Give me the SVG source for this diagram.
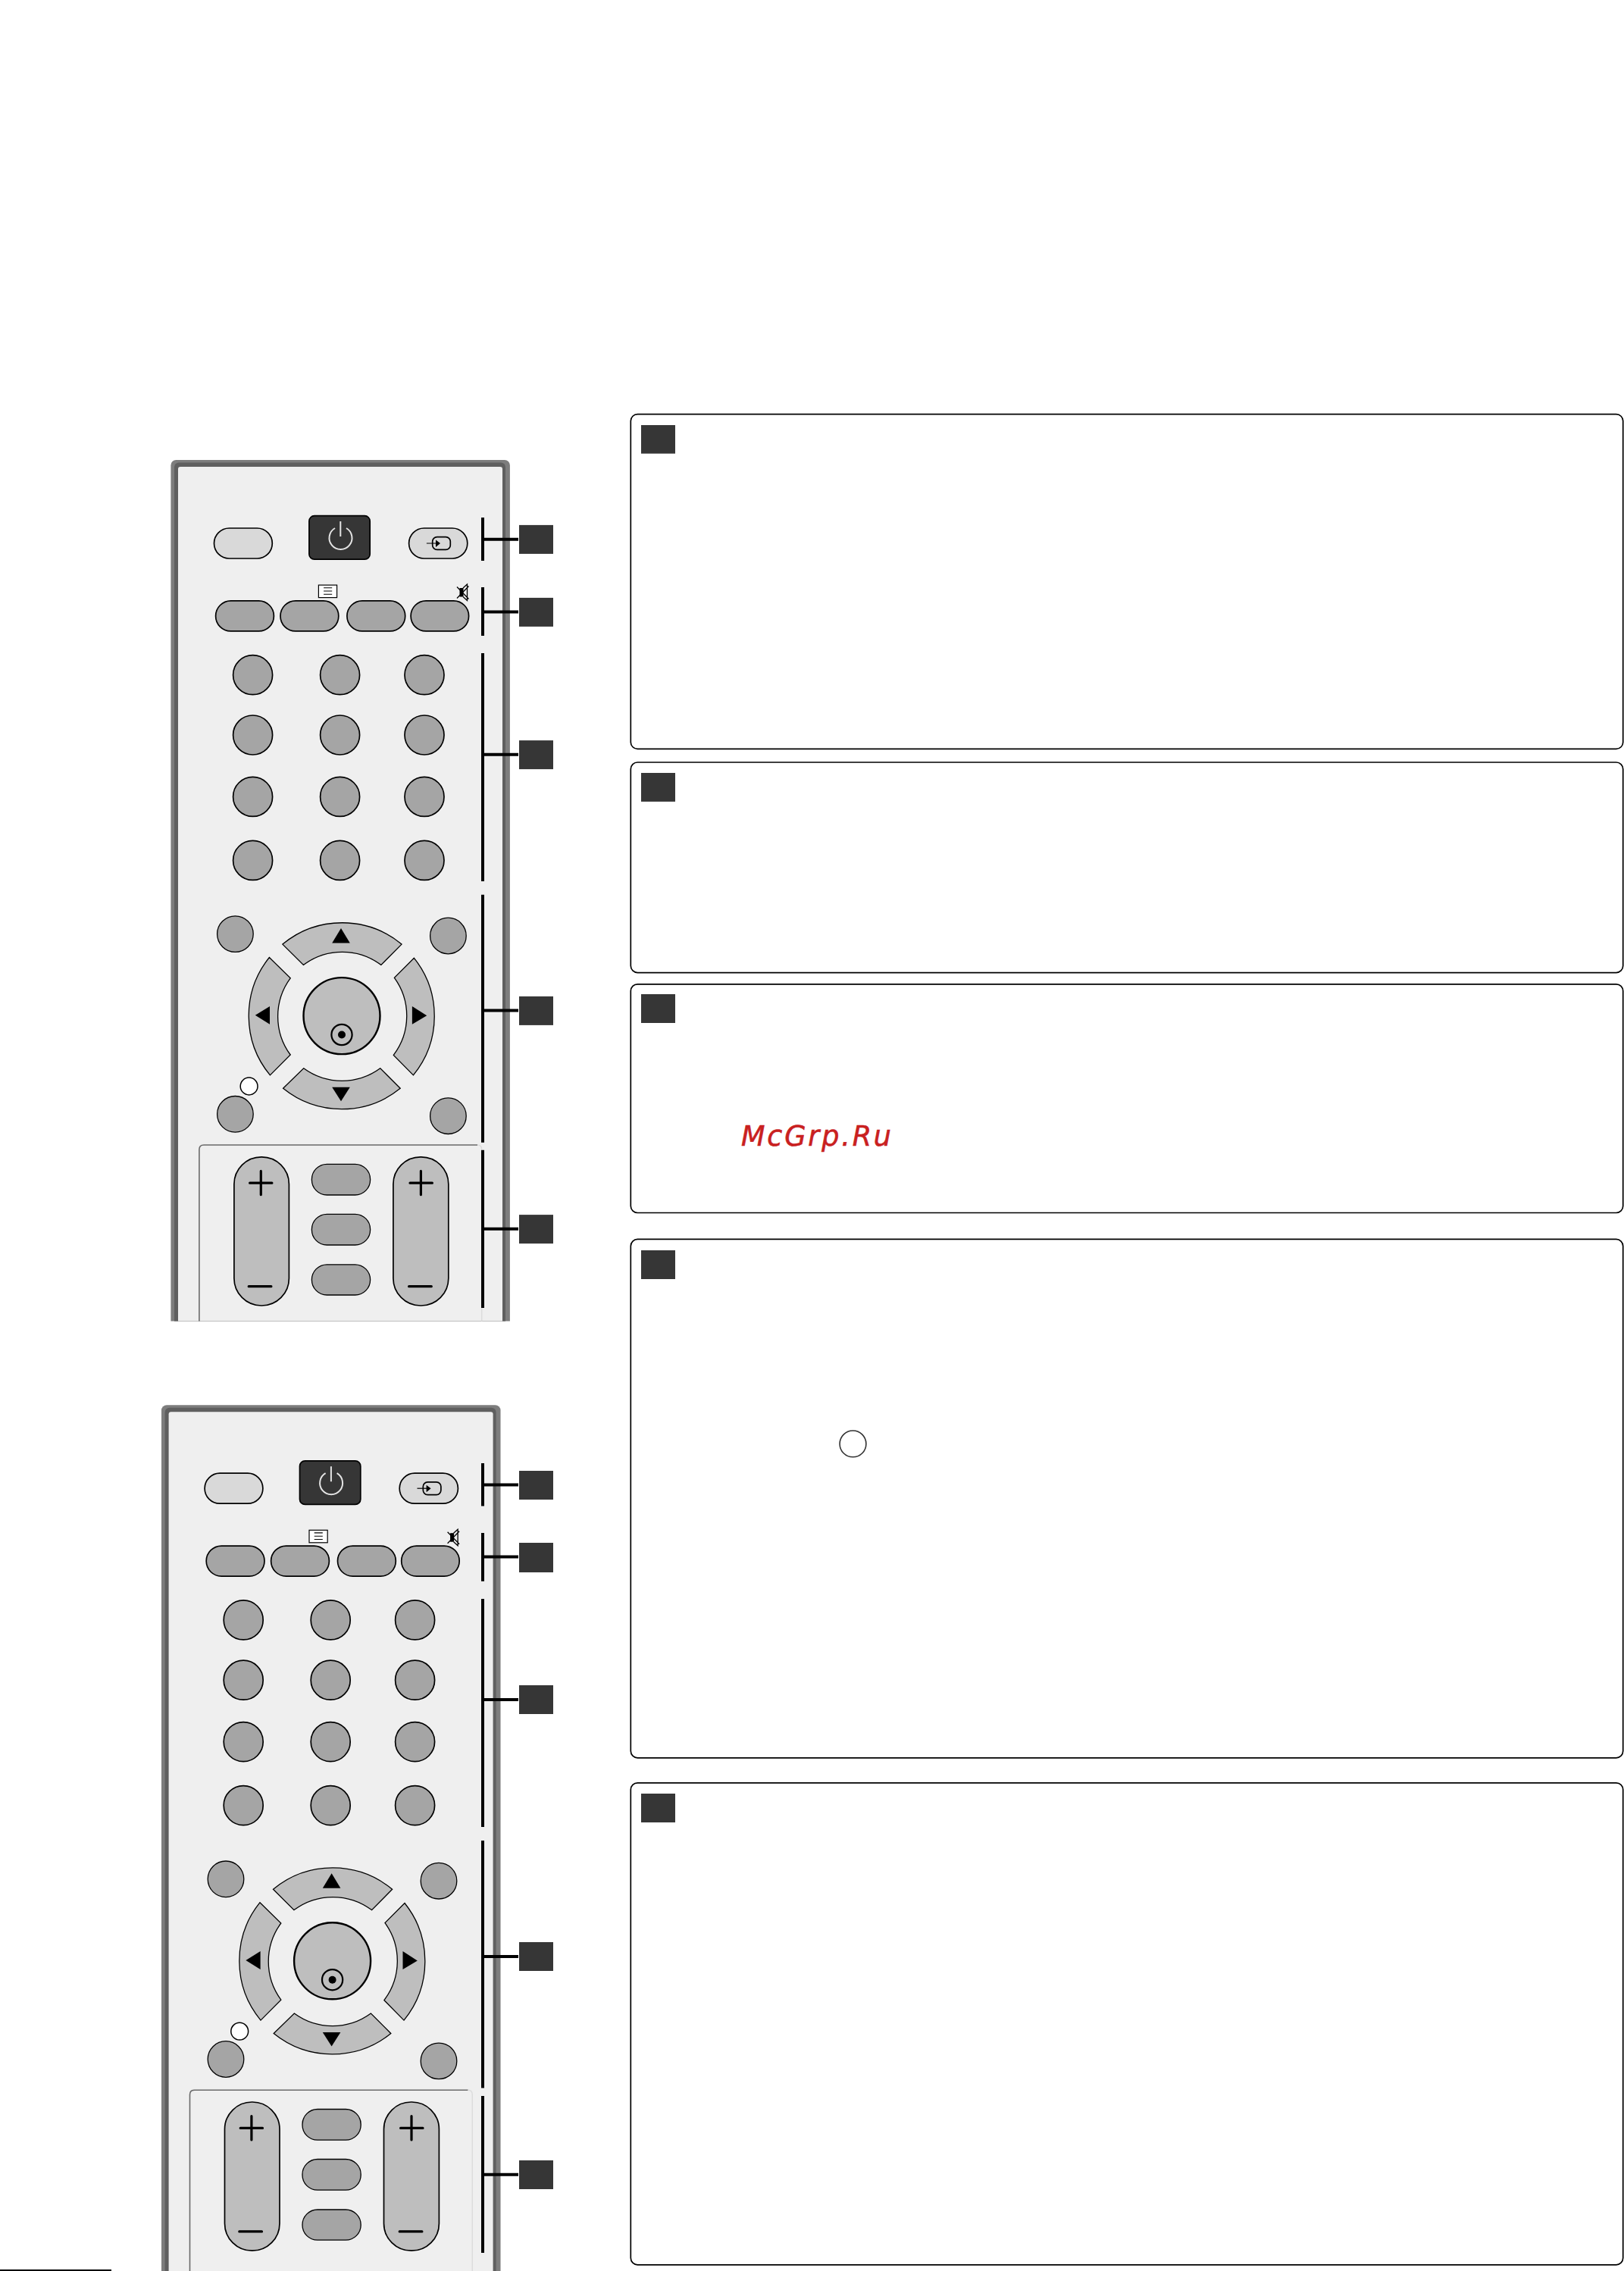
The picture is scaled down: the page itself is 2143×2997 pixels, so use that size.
<svg xmlns="http://www.w3.org/2000/svg" xmlns:xlink="http://www.w3.org/1999/xlink" width="2143" height="2997" viewBox="0 0 2143 2997">
<style>
.k{stroke:#000;stroke-width:1.7}
.t{stroke:#000;stroke-width:1.3}
.lt{fill:#d9d9d9}
.md{fill:#a5a5a5}
.rk{fill:#bebebe}
.sq{fill:#363636}
.box{fill:#fff;stroke:#000;stroke-width:1.7}
.br{stroke:#000;stroke-width:4;fill:none}
.pm{stroke:#000;stroke-width:3.2;stroke-linecap:round;fill:none}
.blk{fill:#000}
</style>
<defs>
<clipPath id="clip1"><rect x="0" y="600" width="800" height="1143.5"/></clipPath>
<g id="remote">
<rect x="225.4" y="607" width="447.5" height="1300" rx="7" fill="#7d7d7d"/>
<rect x="230" y="610.5" width="437" height="1300" rx="6" fill="#5f5f5f"/>
<rect x="235" y="616" width="428" height="1300" rx="3" fill="#efefef"/>
<rect class="k lt" x="282.5" y="697" width="76.8" height="40" rx="20"/>
<rect class="k" x="407.9" y="680.7" width="80.3" height="57.5" rx="7" fill="#363636"/>
<path d="M442 697A15 15 0 1 0 457 697" fill="none" stroke="#e4e4e4" stroke-width="2"/>
<line x1="449.3" y1="688" x2="449.3" y2="708" stroke="#e4e4e4" stroke-width="2"/>
<rect class="k lt" x="539.6" y="697" width="77.2" height="40" rx="20"/>
<rect x="570.7" y="708.6" width="23.6" height="16.8" rx="6" fill="none" stroke="#000" stroke-width="1.7"/>
<line x1="562.9" y1="717" x2="578" y2="717" stroke="#000" stroke-width="1.2"/>
<polygon class="blk" points="575,712.5 581,717 575,722"/>
<rect class="k md" x="284.6" y="792.9" width="76.8" height="40" rx="20"/>
<rect class="k md" x="370" y="792.9" width="76.8" height="40" rx="20"/>
<rect class="k md" x="457.9" y="792.9" width="76.8" height="40" rx="20"/>
<rect class="k md" x="542.1" y="792.9" width="76.5" height="40" rx="20"/>
<rect x="420.4" y="772.1" width="24.2" height="16.5" fill="#fff" stroke="#000" stroke-width="1.2"/>
<path d="M427.1 775.7H438.2M427.1 780H438.2M427.1 784.3H438.2" stroke="#000" stroke-width="1.1" fill="none"/>
<rect class="blk" x="606.5" y="776" width="5" height="11.5"/>
<path d="M611 776L616.5 771V792.5L611 787.5M603 774.5L618.5 790.5M618.5 773.5L603 789.5" fill="none" stroke="#000" stroke-width="1.3"/>
<circle class="k md" cx="333.6" cy="890.7" r="26"/><circle class="k md" cx="448.6" cy="890.7" r="26"/><circle class="k md" cx="560" cy="890.7" r="26"/>
<circle class="k md" cx="333.6" cy="970" r="26"/><circle class="k md" cx="448.6" cy="970" r="26"/><circle class="k md" cx="560" cy="970" r="26"/>
<circle class="k md" cx="333.6" cy="1051.4" r="26"/><circle class="k md" cx="448.6" cy="1051.4" r="26"/><circle class="k md" cx="560" cy="1051.4" r="26"/>
<circle class="k md" cx="333.6" cy="1135.4" r="26"/><circle class="k md" cx="448.6" cy="1135.4" r="26"/><circle class="k md" cx="560" cy="1135.4" r="26"/>
<circle class="t md" cx="310.4" cy="1232.6" r="23.8"/><circle class="t md" cx="591.4" cy="1235" r="23.8"/>
<circle class="t md" cx="310.4" cy="1470.3" r="23.8"/><circle class="t md" cx="591.4" cy="1472.7" r="23.8"/>
<circle cx="328.6" cy="1433.5" r="11.4" fill="#fff" stroke="#000" stroke-width="1.5"/>
<path class="t rk" d="M372.9 1246.1A123 123 0 0 1 530 1246.1L502.9 1273.4A85.5 85.5 0 0 0 400.4 1273.4Z"/>
<path class="t rk" d="M373.6 1436.3A123 123 0 0 0 528.2 1436.3L501.8 1409.8A85.5 85.5 0 0 1 400.7 1409.8Z"/>
<path class="t rk" d="M355.4 1263.5A123 123 0 0 0 356.4 1418.9L383.2 1392A85.5 85.5 0 0 1 383.2 1290.8Z"/>
<path class="t rk" d="M546.4 1264.3A123 123 0 0 1 545.4 1418.9L519.3 1392.4A85.5 85.5 0 0 0 520.4 1290.4Z"/>
<polygon class="blk" points="438.2,1244.5 461.8,1244.5 450,1225.1"/>
<polygon class="blk" points="438.2,1434.7 461.8,1434.7 450,1453.3"/>
<polygon class="blk" points="356,1327.9 356,1351.7 336.8,1339.8"/>
<polygon class="blk" points="543.9,1327.9 543.9,1351.7 563.2,1340.2"/>
<circle cx="451" cy="1340.6" r="50.5" fill="#bebebe" stroke="#000" stroke-width="2.4"/>
<circle cx="451" cy="1365.5" r="13.6" fill="none" stroke="#000" stroke-width="2.2"/>
<circle class="blk" cx="451" cy="1365.5" r="5"/>
<path d="M262.9 1800V1517Q262.9 1511 269 1511H630" fill="none" stroke="#6a6a6a" stroke-width="1.6"/>
<path d="M630 1511Q635.7 1511 635.7 1517V1800" fill="none" stroke="#dcdcdc" stroke-width="1.5"/>
<rect class="k rk" x="308.9" y="1526.8" width="72.5" height="196.2" rx="36"/>
<rect class="k rk" x="518.9" y="1526.8" width="72.9" height="196.2" rx="36"/>
<path class="pm" d="M329.6 1561.2H358.9M344.3 1545.4V1576.7M328.2 1697.7H357.9"/>
<path class="pm" d="M541 1561.2H570.4M555.4 1545.4V1576.7M539.6 1697.7H569.3"/>
<rect class="t md" x="411.4" y="1536.3" width="77.2" height="40.7" rx="20"/>
<rect class="t md" x="411.4" y="1602.3" width="77.2" height="40.7" rx="20"/>
<rect class="t md" x="411.4" y="1668.8" width="77.2" height="40.2" rx="20"/>
</g>
</defs>
<rect width="2143" height="2997" fill="#fff"/>
<g id="remote-top" clip-path="url(#clip1)"><use xlink:href="#remote" href="#remote"/></g>
<g id="remote-bottom"><use xlink:href="#remote" href="#remote" transform="translate(-12.4 1247.2)"/></g>
<g id="connectors">
<path class="br" d="M637 682.9V740M637 775V838.9M637 862.1V1163M637 1180.8V1507.8M637 1517.7V1726"/>
<path class="br" d="M639 711.8H684M639 807.5H684M639 995.7H684M639 1333.5H684M639 1621.7H684"/>
<path class="br" d="M637 1931V1987.5M637 2022.9V2086.8M637 2110V2411M637 2429V2755.5M637 2766V2973"/>
<path class="br" d="M639 1959.6H684M639 2054.6H684M639 2242.9H684M639 2582H684M639 2869.7H684"/>
</g>
<g id="label-a1"><rect class="sq" x="685" y="692.9" width="45" height="38"/></g>
<g id="label-a2"><rect class="sq" x="685" y="788.9" width="45" height="38"/></g>
<g id="label-a3"><rect class="sq" x="685" y="977.1" width="45" height="38"/></g>
<g id="label-a4"><rect class="sq" x="685" y="1314.9" width="45" height="38"/></g>
<g id="label-a5"><rect class="sq" x="685" y="1603.1" width="45" height="38"/></g>
<g id="label-b1"><rect class="sq" x="685" y="1941" width="45" height="38"/></g>
<g id="label-b2"><rect class="sq" x="685" y="2036" width="45" height="39"/></g>
<g id="label-b3"><rect class="sq" x="685" y="2224" width="45" height="38"/></g>
<g id="label-b4"><rect class="sq" x="685" y="2563" width="45" height="38"/></g>
<g id="label-b5"><rect class="sq" x="685" y="2851" width="45" height="38"/></g>
<g id="box-1"><rect class="box" x="832.3" y="546.6" width="1309.4" height="441.8" rx="9"/><rect class="sq" x="846" y="561" width="45" height="37.6"/></g>
<g id="box-2"><rect class="box" x="832.3" y="1006" width="1309.4" height="277.6" rx="9"/><rect class="sq" x="846" y="1020" width="45" height="37.9"/></g>
<g id="box-3"><rect class="box" x="832.3" y="1298.8" width="1309.4" height="301.7" rx="9"/><rect class="sq" x="846" y="1312" width="45" height="38"/>
<text x="978" y="1512" font-family="'DejaVu Sans',sans-serif" font-style="italic" font-size="36.5" fill="#c9201f" stroke="#c9201f" stroke-width="0.6" textLength="198" lengthAdjust="spacing">McGrp.Ru</text></g>
<g id="box-4"><rect class="box" x="832.3" y="1635.4" width="1309.4" height="684.4" rx="9"/><rect class="sq" x="846" y="1650" width="45" height="38"/>
<circle cx="1125.5" cy="1905.4" r="17.4" fill="#fff" stroke="#333" stroke-width="1.6"/></g>
<g id="box-5"><rect class="box" x="832.3" y="2352.8" width="1309.4" height="636" rx="9"/><rect class="sq" x="846" y="2367" width="45" height="38"/></g>
<rect id="footer-rule" x="0" y="2995" width="147" height="2" fill="#000"/>
</svg>
